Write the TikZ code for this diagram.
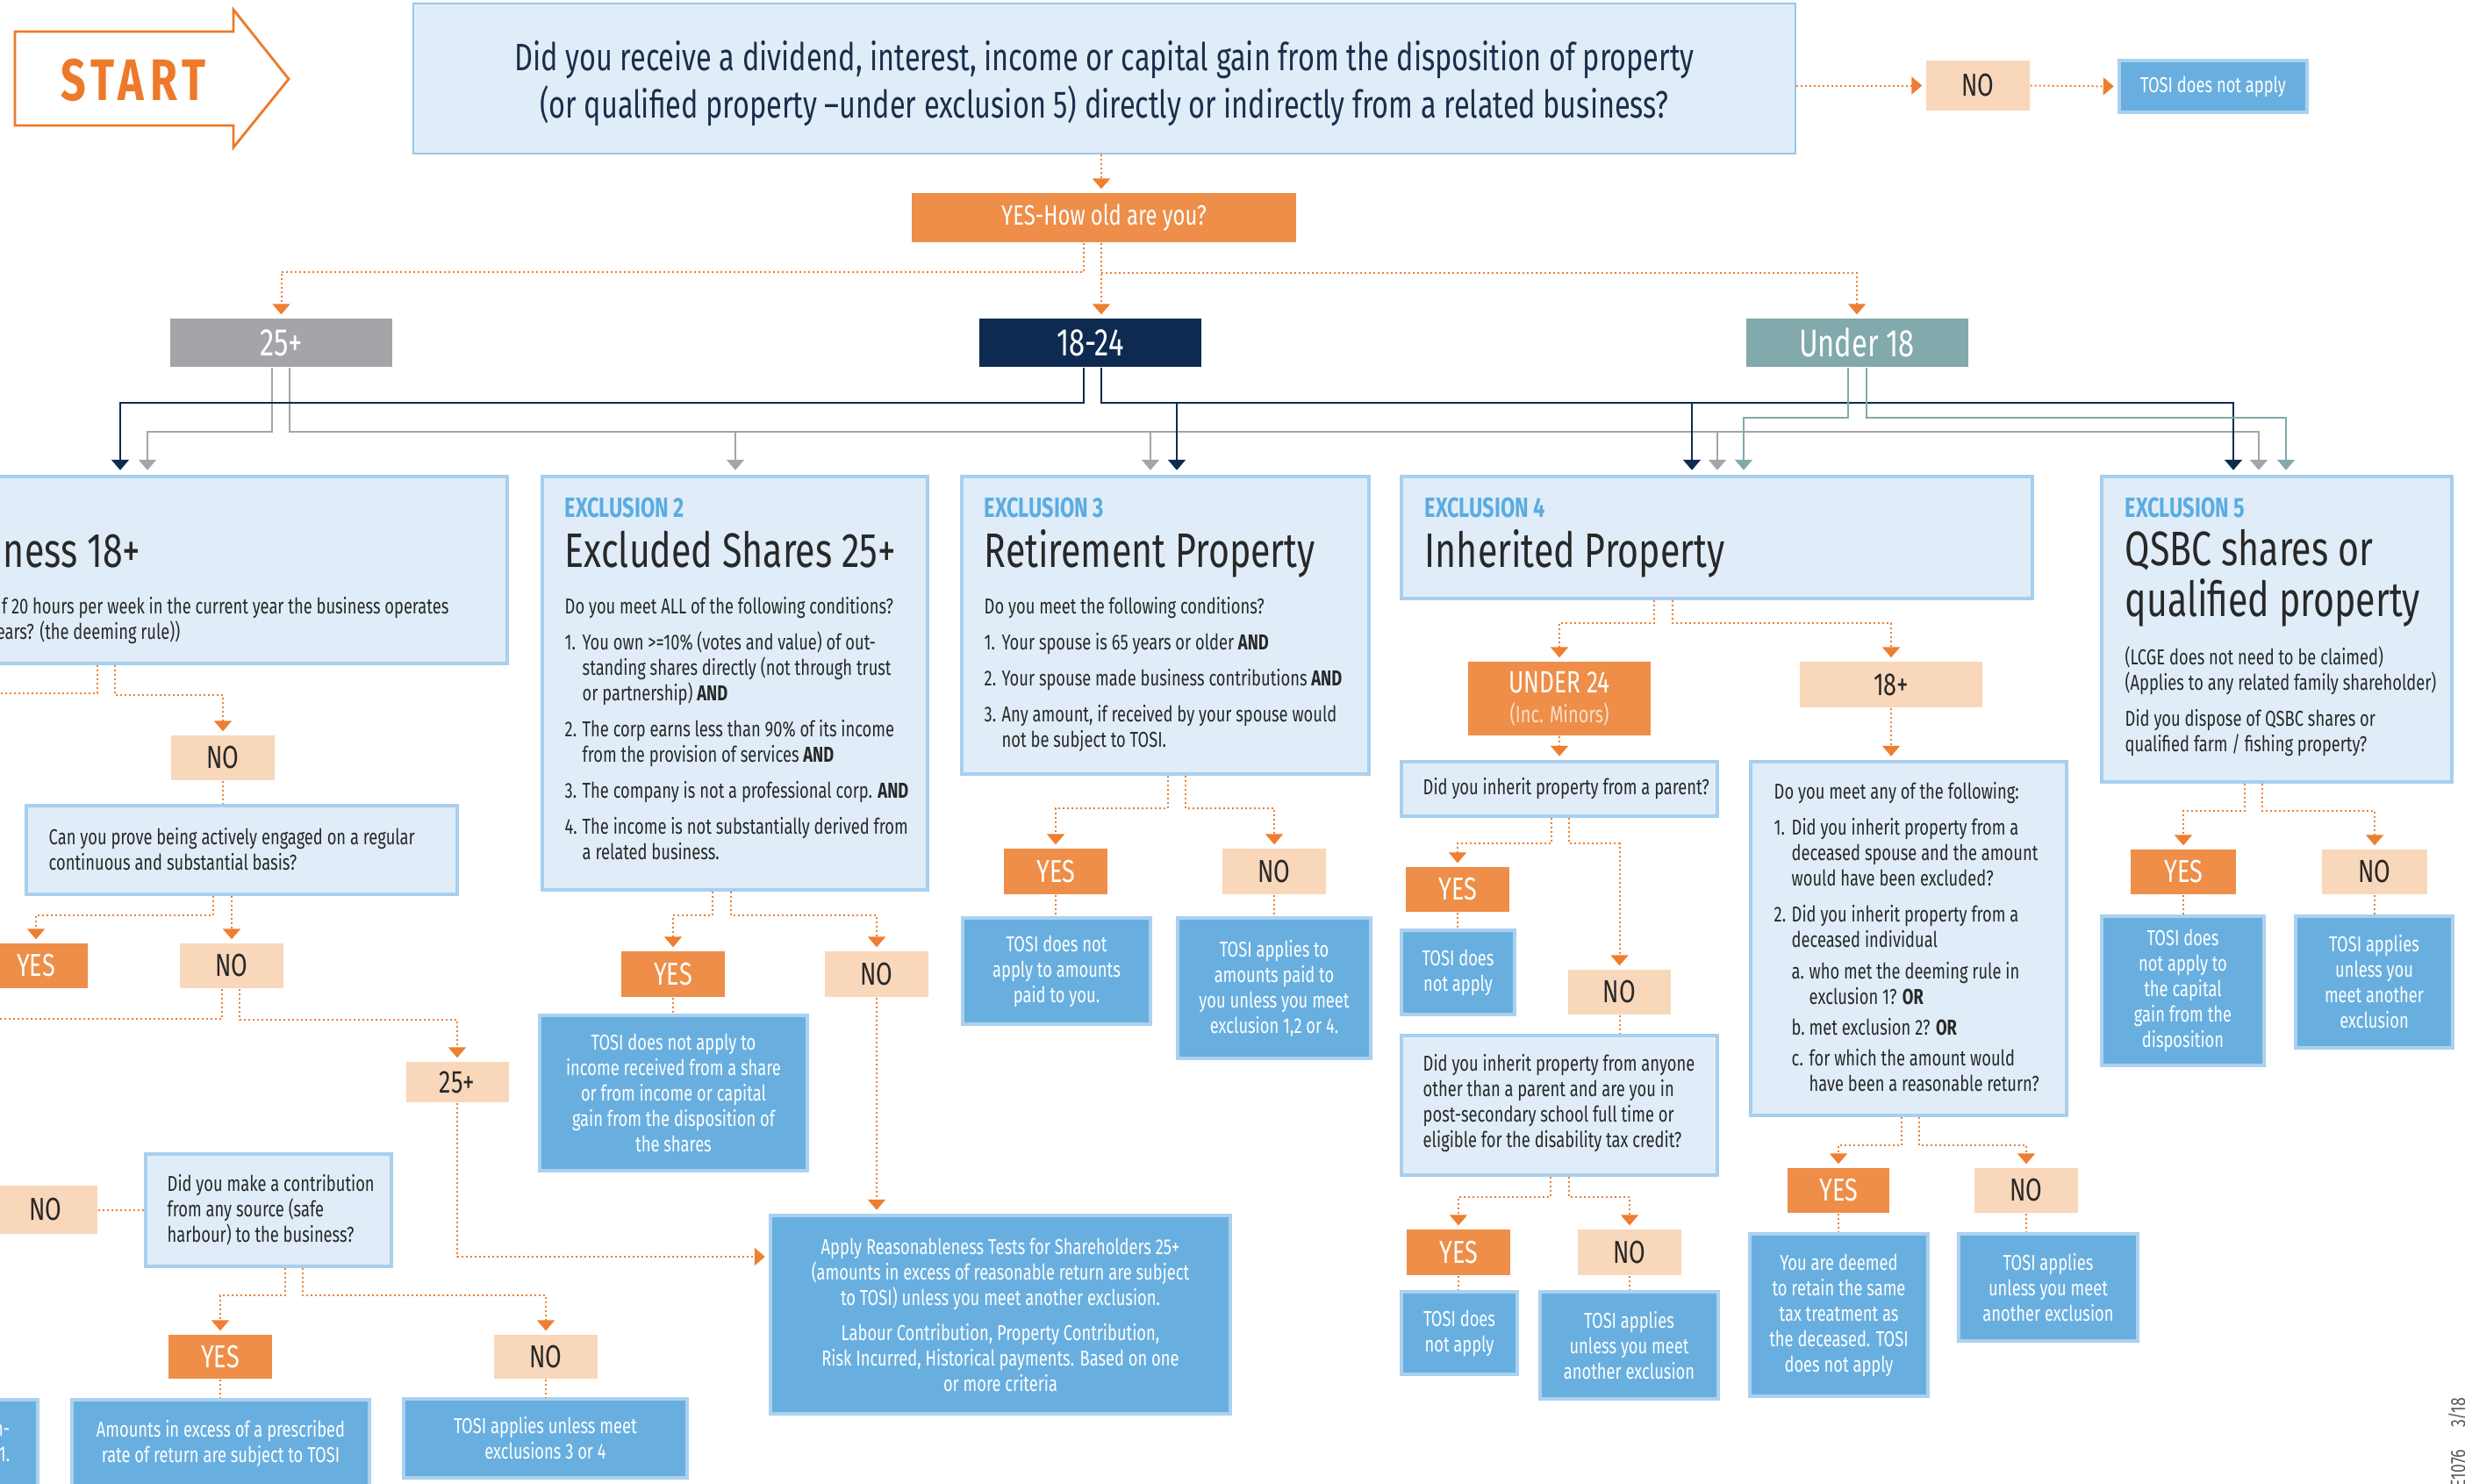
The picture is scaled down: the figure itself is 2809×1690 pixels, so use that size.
\documentclass[tikz,border=0pt]{standalone}
\usepackage{fontspec}
\setmainfont{Fira Sans}[FakeStretch=0.745]
\newfontfamily\startfont{Fira Sans}[FakeStretch=0.75,LetterSpace=10]
\usepackage{tikz}
\usetikzlibrary{calc,arrows.meta,positioning}
\definecolor{lfill}{RGB}{224,237,248}
\definecolor{lbord}{RGB}{168,207,238}
\definecolor{topbord}{RGB}{150,200,238}
\definecolor{mblue}{RGB}{104,175,224}
\definecolor{rbord}{RGB}{170,209,240}
\definecolor{orng}{RGB}{238,142,72}
\definecolor{peach}{RGB}{249,215,187}
\definecolor{navyc}{RGB}{14,42,80}
\definecolor{grayc}{RGB}{163,165,168}
\definecolor{tealc}{RGB}{130,169,172}
\definecolor{dotc}{RGB}{238,126,48}
\definecolor{headc}{RGB}{90,172,226}
\definecolor{txt}{RGB}{40,40,40}
\definecolor{qtxt}{RGB}{27,46,76}
\definecolor{startc}{RGB}{236,122,42}
\definecolor{minorc}{RGB}{252,224,204}
\definecolor{codec}{RGB}{90,90,90}
\newcommand{\bodyf}{\fontsize{7}{8.25}\selectfont}
\newcommand{\topf}{\fontsize{12.4}{15.4}\selectfont}
\newcommand{\titf}{\fontsize{15.7}{16.5}\selectfont}
\newcommand{\headf}{\fontsize{9}{10}\selectfont\bfseries}
\newcommand{\agef}{\fontsize{12.5}{14}\selectfont}
\newcommand{\ynf}{\fontsize{10.3}{12}\selectfont}
\newcommand{\numit}[1]{\makebox[2mm][l]{#1}}
\newcommand{\contit}{\hspace*{2mm}}

\begin{document}
\begin{tikzpicture}[
  x=0.1mm, y=-0.1mm,
  exbox/.style={draw=lbord, fill=lfill, line width=0.45mm, inner sep=0pt},
  rbox/.style={draw=rbord, fill=mblue, line width=0.45mm, inner sep=0pt, align=center,
    font=\bodyf, text=white},
  yesbox/.style={fill=orng, text=white, font=\ynf, inner sep=0pt, minimum width=11.8mm, minimum height=5.1mm},
  nobox/.style={fill=peach, text=txt, font=\ynf, inner sep=0pt, minimum width=11.8mm, minimum height=5.1mm},
  agebox/.style={fill=#1, text=white, font=\agef, inner sep=0pt, minimum width=25.3mm, minimum height=5.5mm},
  exhead/.style={font=\headf, text=headc, anchor=base west, inner sep=0pt},
  extitle/.style={font=\titf, text=txt, anchor=base west, inner sep=0pt},
  extext/.style={font=\bodyf, text=txt, anchor=north west, inner sep=0pt, align=left},
  qtext/.style={font=\bodyf, text=txt, anchor=west, inner sep=0pt, align=left},
  dotl/.style={draw=dotc, line width=0.2mm, dash pattern=on 0.2mm off 0.3mm},
  dotarr/.style={dotl, -{Triangle[width=2mm,length=1.2mm]}, shorten >=0.4mm},
  bus/.style={draw=#1, line width=0.22mm, -{Triangle[width=2mm,length=1.2mm]}, shorten >=0.5mm}
]
\useasboundingbox (0,0) rectangle (2809,1690);
\fill[white] (0,0) rectangle (2809,1690);

% start
\draw[startc, line width=0.28mm] (17,36) -- (266,36) -- (266,11) -- (329,90) -- (266,168)
  -- (266,143) -- (17,143) -- cycle;
\node[font=\startfont\fontsize{19}{20}\selectfont\bfseries, text=startc, inner sep=0pt] (start) at (152,91) {START};

\node[draw=topbord, fill=lfill, line width=0.2mm, minimum width=157.5mm, minimum height=17.1mm] (topq) at (1258.5,89.5) {};
\node[align=center, font=\topf, text=qtxt, inner sep=0pt] (topqt) at (1258.5,95)
  {Did you receive a dividend, interest, income or capital gain from the disposition of property\\
   (or qualified property --under exclusion 5) directly or indirectly from a related business?};
\node[nobox, minimum height=5.7mm] (no0) at (2254,97.5) {NO};
\node[rbox, minimum width=21.4mm, minimum height=5.9mm] (tosi0) at (2522,98.5) {TOSI does not apply};
\node[yesbox, minimum width=43.8mm, minimum height=5.6mm, font=\fontsize{9.1}{10}\selectfont] (yes0) at (1258,248) {YES-How old are you?};
\node[agebox=grayc] (age25) at (320.5,390.5) {25+};
\node[agebox=navyc] (age1824) at (1242.5,390.5) {18-24};
\node[agebox=tealc] (ageu18) at (2116,390.5) {Under 18};

% exclusion boxes
\node[exbox, minimum width=77.8mm, minimum height=21.3mm] (ex1) at (189,649.5) {};
\node[exbox, minimum width=43.9mm, minimum height=47.1mm] (ex2) at (837.5,778.5) {};
\node[exbox, minimum width=46.4mm, minimum height=33.9mm] (ex3) at (1328,712.5) {};
\node[exbox, minimum width=71.9mm, minimum height=13.9mm] (ex4) at (1956.5,612.5) {};
\node[exbox, minimum width=39.9mm, minimum height=34.8mm] (ex5) at (2594.5,717) {};

\node[extitle, anchor=base east] (ex1t) at (161,646) {ness 18+};
\node[extext, anchor=base east] (ex1a) at (512,699) {f 20 hours per week in the current year the business operates};
\node[extext, anchor=base east] (ex1b) at (206,728) {ears? (the deeming rule))};

\node[exhead] (ex2h) at (643,589) {EXCLUSION 2};
\node[extitle] (ex2t) at (643,646) {Excluded Shares 25+};
\node[extext] (ex2b) at (643,680) {Do you meet ALL of the following conditions?\\[1.2mm]
  \numit{1.}You own >=10\% (votes and value) of out-\\
  \contit standing shares directly (not through trust\\
  \contit or partnership) \textbf{AND}\\[1.2mm]
  \numit{2.}The corp earns less than 90\% of its income\\
  \contit from the provision of services \textbf{AND}\\[1.2mm]
  \numit{3.}The company is not a professional corp. \textbf{AND}\\[1.2mm]
  \numit{4.}The income is not substantially derived from\\
  \contit a related business.};

\node[exhead] (ex3h) at (1121,589) {EXCLUSION 3};
\node[extitle] (ex3t) at (1121,646) {Retirement Property};
\node[extext] (ex3b) at (1121,680) {Do you meet the following conditions?\\[1.2mm]
  \numit{1.}Your spouse is 65 years or older \textbf{AND}\\[1.2mm]
  \numit{2.}Your spouse made business contributions \textbf{AND}\\[1.2mm]
  \numit{3.}Any amount, if received by your spouse would\\
  \contit not be subject to TOSI.};

\node[exhead] (ex4h) at (1623,589) {EXCLUSION 4};
\node[extitle] (ex4t) at (1623,646) {Inherited Property};

\node[exhead] (ex5h) at (2421,589) {EXCLUSION 5};
\node[extitle, anchor=north west, align=left] (ex5t) at (2421,603) {QSBC shares or\\qualified property};
\node[extext] (ex5b) at (2421,736) {(LCGE does not need to be claimed)\\
  (Applies to any related family shareholder)\\[1.2mm]
  Did you dispose of QSBC shares or\\
  qualified farm / fishing property?};

% branch under exclusion 1
\node[nobox] (no1) at (254,863.5) {NO};
\node[exbox, minimum width=49.1mm, minimum height=10.1mm] (q1) at (275.5,968.5) {};
\node[qtext] (q1t) at (55,967.5) {Can you prove being actively engaged on a regular\\continuous and substantial basis?};
\node[yesbox] (yes1) at (41,1100.5) {YES};
\node[nobox] (no2) at (264,1100.5) {NO};
\node[nobox, minimum width=11.7mm, minimum height=4.6mm] (p25) at (521,1233) {25+};
\node[nobox, minimum height=5.5mm] (no3) at (52,1378.5) {NO};
\node[exbox, minimum width=28mm, minimum height=12.8mm] (q2) at (306,1379) {};
\node[qtext] (q2t) at (190,1379) {Did you make a contribution\\from any source (safe\\harbour) to the business?};
\node[yesbox, minimum height=5mm] (yes3) at (251,1546) {YES};
\node[nobox, minimum height=5mm] (no4) at (622,1546) {NO};
\node[rbox, minimum width=33.9mm, minimum height=9.9mm] (amt) at (251.5,1644.5)
  {Amounts in excess of a prescribed\\rate of return are subject to TOSI};
\node[rbox, minimum width=32.3mm, minimum height=9mm] (tosi4) at (621.5,1639)
  {TOSI applies unless meet\\exclusions 3 or 4};
\node[rbox, minimum width=14.6mm, minimum height=10mm] (cutl) at (-30,1645) {};
\node[font=\bodyf, text=white, align=right, anchor=east, inner sep=0pt] (cutlt) at (12,1644) {n-\\1.};

% branch under exclusion 2
\node[yesbox, minimum height=5.2mm] (yes2) at (767,1110) {YES};
\node[nobox, minimum height=5.2mm] (no5) at (999,1110) {NO};
\node[rbox, minimum width=30.5mm, minimum height=17.7mm] (tosi2) at (767.5,1245.5)
  {TOSI does not apply to\\income received from a share\\or from income or capital\\gain from the disposition of\\the shares};
\node[rbox, minimum width=52.4mm, minimum height=22.6mm] (apply) at (1140,1498)
  {Apply Reasonableness Tests for Shareholders 25+\\
   (amounts in excess of reasonable return are subject\\
   to TOSI) unless you meet another exclusion.\\[1.1mm]
   Labour Contribution, Property Contribution,\\
   Risk Incurred, Historical payments. Based on one\\
   or more criteria};

% branch under exclusion 3
\node[yesbox, minimum height=5.2mm] (yes6) at (1203,993) {YES};
\node[nobox, minimum height=5.2mm] (no6) at (1452,993) {NO};
\node[rbox, minimum width=21.4mm, minimum height=12.1mm] (tosi6) at (1204,1106.5)
  {TOSI does not\\apply to amounts\\paid to you.};
\node[rbox, minimum width=22mm, minimum height=16mm] (tosi7) at (1452,1126)
  {TOSI applies to\\amounts paid to\\you unless you meet\\exclusion 1,2 or 4.};

% branch under exclusion 4
\node[yesbox, minimum width=20.8mm, minimum height=8.4mm, align=center, font=\fontsize{10}{9.6}\selectfont] (u24) at (1777,796)
  {UNDER 24\\{\fontsize{7.6}{9.6}\selectfont\color{minorc}(Inc. Minors)}};
\node[nobox, minimum width=20.8mm, minimum height=5.2mm] (a18) at (2155,780) {18+};
\node[exbox, minimum width=36mm, minimum height=6.2mm] (q4) at (1777,899) {};
\node[qtext] (q4t) at (1621,899) {Did you inherit property from a parent?};
\node[yesbox] (yes8) at (1661,1013.5) {YES};
\node[nobox, minimum width=11.7mm] (no8) at (1845.5,1130.5) {NO};
\node[rbox, minimum width=12.9mm, minimum height=9.6mm] (tosi8) at (1661.5,1108) {TOSI does\\not apply};
\node[exbox, minimum width=36mm, minimum height=15.9mm] (q5) at (1777,1259.5) {};
\node[qtext] (q5t) at (1621,1257.5)
  {Did you inherit property from anyone\\other than a parent and are you in\\post-secondary school full time or\\eligible for the disability tax credit?};
\node[yesbox, minimum height=5.2mm] (yes9) at (1662,1427) {YES};
\node[nobox, minimum height=5.2mm] (no9) at (1857,1427) {NO};
\node[rbox, minimum width=13.2mm, minimum height=9.4mm] (tosi9) at (1663,1519) {TOSI does\\not apply};
\node[rbox, minimum width=20.3mm, minimum height=12.2mm] (tosi10) at (1856.5,1533)
  {TOSI applies\\unless you meet\\another exclusion};
\node[exbox, minimum width=36mm, minimum height=40.3mm] (q6) at (2175,1069.5) {};
\node[qtext] (q6t) at (2021,1068)
  {Do you meet any of the following:\\[1.2mm]
   \numit{1.}Did you inherit property from a\\
   \contit deceased spouse and the amount\\
   \contit would have been excluded?\\[1.2mm]
   \numit{2.}Did you inherit property from a\\
   \contit deceased individual\\[0.7mm]
   \contit\numit{a.}who met the deeming rule in\\
   \contit\contit exclusion 1? \textbf{OR}\\[0.6mm]
   \contit\numit{b.}met exclusion 2? \textbf{OR}\\[0.6mm]
   \contit\numit{c.}for which the amount would\\
   \contit\contit have been a reasonable return?};
\node[yesbox, minimum width=11.6mm] (yes11) at (2095,1356.5) {YES};
\node[nobox] (no11) at (2309,1356.5) {NO};
\node[rbox, minimum width=20.3mm, minimum height=18.5mm] (tosi11) at (2095.5,1498.5)
  {You are deemed\\to retain the same\\tax treatment as\\the deceased. TOSI\\does not apply};
\node[rbox, minimum width=20.4mm, minimum height=12.2mm] (tosi12) at (2334,1467)
  {TOSI applies\\unless you meet\\another exclusion};

% branch under exclusion 5
\node[yesbox, minimum width=12mm] (yes13) at (2488,993.5) {YES};
\node[nobox, minimum width=12mm] (no13) at (2706,993.5) {NO};
\node[rbox, minimum width=18.5mm, minimum height=17mm] (tosi13) at (2487.5,1129)
  {TOSI does\\not apply to\\the capital\\gain from the\\disposition};
\node[rbox, minimum width=17.9mm, minimum height=15mm] (tosi14) at (2705.5,1119)
  {TOSI applies\\unless you\\meet another\\exclusion};

\node[font=\fontsize{6.8}{7}\selectfont, text=codec, rotate=90, anchor=east, inner sep=0pt] (code) at (2801,1592) {E1076\hspace{2.5mm}3/18};

% age buses
\coordinate (nbus) at (0,459);
\coordinate (tbus) at (0,476);
\coordinate (gbus) at (0,492);
\draw[bus=grayc] (age25.south -| 310,0) |- (gbus -| 168,0) -- (ex1.north -| 168,0);
\draw[bus=grayc] (age25.south -| 330,0) |- (gbus -| 2574,0) -- (ex5.north -| 2574,0);
\foreach \bx/\bn in {838/ex2,1311/ex3,1957/ex4}
  \draw[bus=grayc] (gbus -| \bx,0) -- (\bn.north -| \bx,0);
\draw[bus=navyc] (age1824.south -| 1235,0) |- (nbus -| 137,0) -- (ex1.north -| 137,0);
\draw[bus=navyc] (age1824.south -| 1255,0) |- (nbus -| 2545,0) -- (ex5.north -| 2545,0);
\foreach \bx/\bn in {1341/ex3,1928/ex4}
  \draw[bus=navyc] (nbus -| \bx,0) -- (\bn.north -| \bx,0);
\draw[bus=tealc] (ageu18.south -| 2106,0) |- (tbus -| 1987,0) -- (ex4.north -| 1987,0);
\draw[bus=tealc] (ageu18.south -| 2127,0) |- (tbus -| 2605,0) -- (ex5.north -| 2605,0);

% dotted flow
\draw[dotarr] (topq.east |- no0.west) -- (no0.west);
\draw[dotarr] (no0.east) -- (tosi0.west);
\draw[dotarr] (topq.south -| 1255,0) -- (yes0.north -| 1255,0);
\draw[dotarr] (yes0.south -| 1235,0) -- ++(0,33) -| (age25.north);
\draw[dotarr] (yes0.south -| 1255,0) -- (age1824.north -| 1255,0);
\draw[dotarr] ($(yes0.south -| 1255,0)+(0,34)$) -| (ageu18.north);

\coordinate (offa) at (-60,790);
\coordinate (offb) at (-60,1161);
\draw[dotl] (ex1.south -| 111,0) |- (offa);
\draw[dotarr] (ex1.south -| 131,0) -- ++(0,34) -| (no1.north);
\draw[dotl] (no1.south) -- (no1.south |- q1.north);
\draw[dotarr] (q1.south -| 243,0) -- ++(0,22) -| (yes1.north);
\draw[dotarr] (no2.north |- q1.south) -- (no2.north);
\draw[dotl] (no2.south -| 253,0) |- (offb);
\draw[dotarr] (no2.south -| 273,0) -- ++(0,35) -| (p25.north);
\draw[dotarr] (p25.south) |- (apply.west |- 0,1432);
\draw[dotl] (no3.east) -- (no3.east -| q2.west);
\draw[dotarr] (q2.south -| 325,0) -- ++(0,31) -| (yes3.north);
\draw[dotarr] (q2.south -| 345,0) -- ++(0,31) -| (no4.north);
\draw[dotl] (yes3.south) -- (yes3.south |- amt.north);
\draw[dotl] (no4.south) -- (no4.south |- tosi4.north);

\draw[dotarr] (ex2.south -| 812,0) -- ++(0,27) -| (yes2.north);
\draw[dotarr] (ex2.south -| 833,0) -- ++(0,27) -| (no5.north);
\draw[dotl] (yes2.south) -- (yes2.south |- tosi2.north);
\draw[dotarr] (no5.south) -- (no5.south |- apply.north);

\draw[dotarr] (ex3.south -| 1331,0) -- ++(0,37) -| (yes6.north);
\draw[dotarr] (ex3.south -| 1351,0) -- ++(0,37) -| (no6.north);
\draw[dotl] (yes6.south) -- (yes6.south |- tosi6.north);
\draw[dotl] (no6.south) -- (no6.south |- tosi7.north);

\draw[dotarr] (ex4.south -| 1885,0) -- ++(0,26) -| (u24.north);
\draw[dotarr] (ex4.south -| 1906,0) -- ++(0,26) -| (a18.north);
\draw[dotarr] (u24.south) -- (q4.north);
\draw[dotarr] (q4.south -| 1768,0) -- ++(0,29) -| (yes8.north);
\draw[dotarr] (q4.south -| 1788,0) -- ++(0,29) -| (no8.north);
\draw[dotl] (yes8.south) -- (yes8.south |- tosi8.north);
\draw[dotl] (no8.south) -- (no8.south |- q5.north);
\draw[dotarr] (q5.south -| 1767,0) -- ++(0,23) -| (yes9.north);
\draw[dotarr] (q5.south -| 1788,0) -- ++(0,23) -| (no9.north);
\draw[dotl] (yes9.south) -- (yes9.south |- tosi9.north);
\draw[dotl] (no9.south) -- (no9.south |- tosi10.north);
\draw[dotarr] (a18.south) -- (a18.south |- q6.north);
\draw[dotarr] (q6.south -| 2167,0) -- ++(0,32) -| (yes11.north);
\draw[dotarr] (q6.south -| 2187,0) -- ++(0,32) -| (no11.north);
\draw[dotl] (yes11.south) -- (yes11.south |- tosi11.north);
\draw[dotl] (no11.south) -- (no11.south |- tosi12.north);

\draw[dotarr] (ex5.south -| 2558,0) -- ++(0,31) -| (yes13.north);
\draw[dotarr] (ex5.south -| 2578,0) -- ++(0,31) -| (no13.north);
\draw[dotl] (yes13.south) -- (yes13.south |- tosi13.north);
\draw[dotl] (no13.south) -- (no13.south |- tosi14.north);
\end{tikzpicture}
\end{document}
